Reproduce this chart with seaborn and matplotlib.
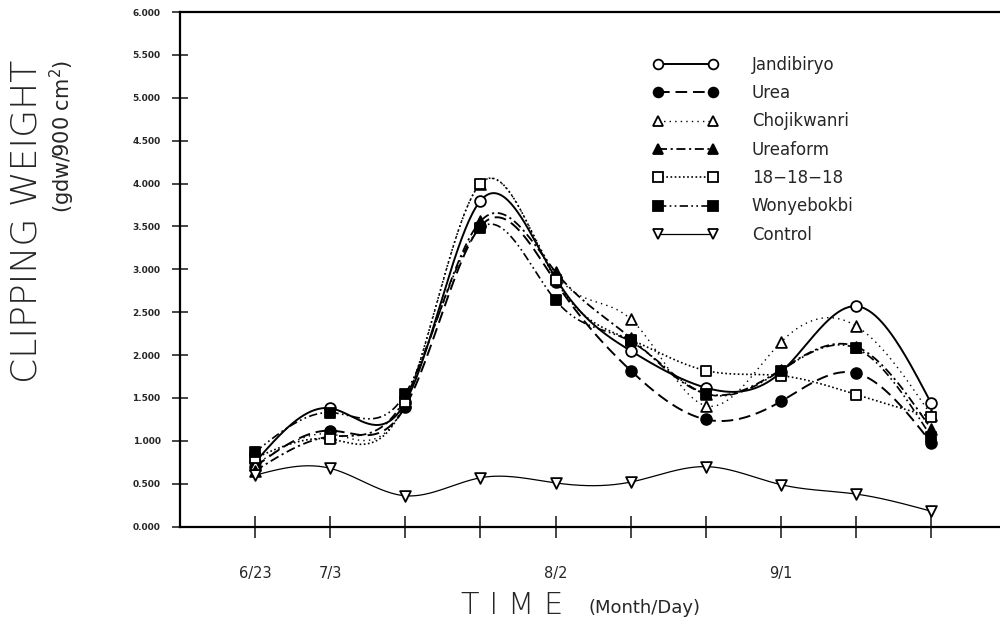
import numpy as np
import matplotlib
matplotlib.use("Agg")
import matplotlib.pyplot as plt
import seaborn as sns
from matplotlib.lines import Line2D

# sampling points (10-day steps), tick labels shown only at some
x_pos = [1, 2, 3, 4, 5, 6, 7, 8, 9, 10]
x_labels = ["6/23", "7/3", "", "", "8/2", "", "", "9/1", "", ""]

jandibiryo = [0.75, 1.38, 1.45, 3.80, 2.90, 2.05, 1.62, 1.80, 2.57, 1.44]
urea = [0.70, 1.12, 1.40, 3.50, 2.85, 1.82, 1.25, 1.46, 1.79, 0.98]
chojikwanri = [0.72, 1.08, 1.45, 4.00, 2.95, 2.42, 1.41, 2.15, 2.34, 1.30]
ureaform = [0.65, 1.05, 1.50, 3.56, 2.97, 2.20, 1.55, 1.83, 2.10, 1.14]
npk_181818 = [0.80, 1.02, 1.45, 4.00, 2.88, 2.18, 1.82, 1.76, 1.54, 1.28]
wonyebokbi = [0.87, 1.33, 1.55, 3.48, 2.64, 2.16, 1.55, 1.82, 2.08, 1.05]
control = [0.60, 0.68, 0.36, 0.57, 0.51, 0.52, 0.70, 0.49, 0.38, 0.18]


def natural_spline(x, y, n=400):
    x = np.asarray(x, float)
    y = np.asarray(y, float)
    k = len(x)
    h = np.diff(x)
    A = np.zeros((k, k))
    r = np.zeros(k)
    A[0, 0] = A[-1, -1] = 1
    for i in range(1, k - 1):
        A[i, i - 1] = h[i - 1]
        A[i, i] = 2 * (h[i - 1] + h[i])
        A[i, i + 1] = h[i]
        r[i] = 3 * ((y[i + 1] - y[i]) / h[i] - (y[i] - y[i - 1]) / h[i - 1])
    c = np.linalg.solve(A, r)
    b = (y[1:] - y[:-1]) / h - h * (2 * c[:-1] + c[1:]) / 3
    d = (c[1:] - c[:-1]) / (3 * h)
    xs = np.linspace(x[0], x[-1], n)
    idx = np.clip(np.searchsorted(x, xs) - 1, 0, k - 2)
    t = xs - x[idx]
    ys = y[idx] + b[idx] * t + c[idx] * t ** 2 + d[idx] * t ** 3
    return xs, ys


series = [
    ("Jandibiryo", jandibiryo, "-", 1.4, "o", "white"),
    ("Urea", urea, (0, (6, 3)), 1.4, "o", "black"),
    ("Chojikwanri", chojikwanri, (0, (1, 3)), 1.0, "^", "white"),
    ("Ureaform", ureaform, (0, (5, 2, 1.2, 2)), 1.3, "^", "black"),
    ("18\u221218\u221218", npk_181818, (0, (1, 1.5)), 1.2, "s", "white"),
    ("Wonyebokbi", wonyebokbi, (0, (5, 2, 1, 2, 1, 2)), 1.2, "s", "black"),
    ("Control", control, "-", 0.9, "v", "white"),
]

sns.set_style("ticks")
plt.rcParams["font.family"] = ["DejaVu Sans"]

fig = plt.figure(figsize=(10, 6.33), dpi=100)
ax = fig.add_axes([0.18, 0.168, 0.83, 0.813])

handles = []
for name, vals, ls, lw, mk, fc in series:
    xs, ys = natural_spline(x_pos, vals)
    sns.lineplot(x=xs, y=ys, ax=ax, color="black", linestyle=ls, linewidth=lw,
                 sort=False, estimator=None)
    sns.scatterplot(x=x_pos, y=vals, ax=ax, marker=mk, s=60, color=fc,
                    edgecolor="black", linewidth=1.3, zorder=3)
    handles.append(Line2D([], [], color="black", linestyle=ls, linewidth=lw,
                          marker=mk, markersize=7, markerfacecolor=fc,
                          markeredgecolor="black", markeredgewidth=1.3,
                          label=name))

ax.set_xlim(0, 11.05)
ax.set_ylim(0, 6)
ax.set_xticks(x_pos)
ax.set_xticklabels(x_labels, fontsize=10.5)
ax.set_yticks(np.arange(0, 6.01, 0.5))
ax.set_yticklabels([f"{v:.3f}" for v in np.arange(0, 6.01, 0.5)],
                   fontsize=6.5, fontweight="bold")
ax.tick_params(axis="x", direction="inout", length=16, width=1.2, pad=20)
ax.tick_params(axis="y", direction="inout", length=12, width=1.2, pad=8)
for s in ["left", "bottom", "top"]:
    ax.spines[s].set_linewidth(1.6)
    ax.spines[s].set_color("black")
ax.spines["right"].set_visible(False)

leg = ax.legend(handles=handles, numpoints=2, frameon=False, fontsize=12,
                handlelength=3.9, handletextpad=2.0, labelspacing=0.62,
                loc="upper left", bbox_to_anchor=(0.645, 0.925),
                bbox_transform=fig.transFigure, borderpad=0)

fig.text(0.027, 0.905, "CLIPPING WEIGHT", rotation=90, ha="center", va="top",
         fontsize=26, fontweight="light")
fig.text(0.062, 0.905, "(gdw/900 cm$^2$)", rotation=90, ha="center", va="top",
         fontsize=15)
fig.text(0.512, 0.043, "T I M E", ha="center", va="center", fontsize=22,
         fontweight="light")
fig.text(0.645, 0.040, "(Month/Day)", ha="center", va="center", fontsize=13)

fig.savefig("out.png", dpi=100)
